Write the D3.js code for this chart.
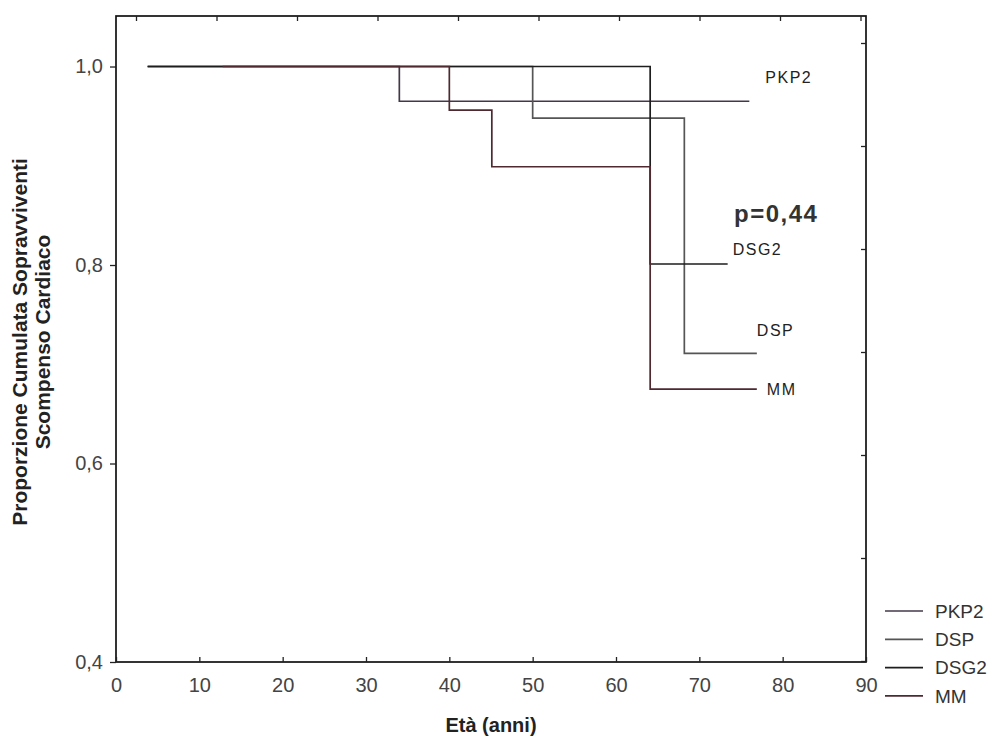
<!DOCTYPE html>
<html>
<head>
<meta charset="utf-8">
<script src="https://cdnjs.cloudflare.com/ajax/libs/d3/7.8.5/d3.min.js"></script>
<style>
  body { margin: 0; background: #fff; }
  svg { display: block; font-family: "Liberation Sans", Arial, sans-serif; }
</style>
</head>
<body>
<div id="chart"></div>
<script>
// series: age (anni) and cumulative survival
var seriesNames = ["PKP2", "DSP", "DSG2", "MM"];
var pkp2Age = [3.8, 34, 76];
var pkp2Surv = [1, 0.965, 0.965];
var dspAge = [3.8, 50, 68.2, 76.9];
var dspSurv = [1, 0.948, 0.711, 0.711];
var dsg2Age = [3.8, 64.1, 73.4];
var dsg2Surv = [1, 0.801, 0.801];
var mmAge = [12.8, 40, 45.1, 64.1, 76.9];
var mmSurv = [1, 0.956, 0.899, 0.675, 0.675];

var xTicks = [0, 10, 20, 30, 40, 50, 60, 70, 80, 90];
var yTicks = [0.4, 0.6, 0.8, 1.0];
var pValue = "p=0,44";

function init() {
    var w = 994;
    var h = 737;
    var left = 116, right = 866, top = 16, bottom = 662;

    var colors = { PKP2: "#43384a", DSP: "#555555", DSG2: "#1e1e1e", MM: "#4e2a30" };
    // label offsets from the end of each curve
    var labelPos = {
        PKP2: { dx: 16, dy: -24 },
        DSG2: { dx: 5, dy: -15 },
        DSP: { dx: 0, dy: -23 },
        MM: { dx: 10, dy: 0 }
    };

    var series = [
        { name: "PKP2", age: pkp2Age, surv: pkp2Surv },
        { name: "DSP", age: dspAge, surv: dspSurv },
        { name: "DSG2", age: dsg2Age, surv: dsg2Surv },
        { name: "MM", age: mmAge, surv: mmSurv }
    ];

    var xScale = d3.scaleLinear().domain([0, 90]).range([left, right]);
    var yScale = d3.scaleLinear().domain([0.4, 1.0509]).range([bottom, top]);

    // unlabeled ticks on the right and top frame edges
    var rightScale = d3.scaleLinear().domain([0, 6]).range([661, 43]);
    var topScale = d3.scaleLinear().domain([0, 9]).range([136, 860.5]);

    var svg = d3.select("#chart")
        .append("svg")
        .attr("width", w)
        .attr("height", h);

    svg.append("rect")
        .attr("width", w).attr("height", h).attr("fill", "#fff");

    var line = d3.line()
        .curve(d3.curveStepAfter)
        .x(function (d) { return xScale(d[0]); })
        .y(function (d) { return yScale(d[1]); });

    series.forEach(function (s) {
        var pts = s.age.map(function (a, i) { return [a, s.surv[i]]; });
        svg.append("path")
            .datum(pts)
            .attr("fill", "none")
            .attr("stroke", colors[s.name])
            .attr("stroke-width", 1.7)
            .attr("d", line);

        var lp = labelPos[s.name];
        svg.append("text")
            .attr("x", xScale(s.age[s.age.length - 1]) + lp.dx)
            .attr("y", yScale(s.surv[s.surv.length - 1]) + lp.dy)
            .attr("dy", "0.35em")
            .attr("font-size", 16)
            .attr("letter-spacing", 1.5)
            .attr("fill", "#222")
            .text(s.name);
    });

    // frame
    svg.append("rect")
        .attr("x", left).attr("y", top)
        .attr("width", right - left).attr("height", bottom - top)
        .attr("fill", "none")
        .attr("stroke", "#111")
        .attr("stroke-width", 1.7);

    var xAxis = d3.axisBottom(xScale)
        .tickValues(xTicks)
        .tickSizeInner(-5)
        .tickSizeOuter(0)
        .tickPadding(16)
        .tickFormat(d3.format("d"));

    var yAxis = d3.axisLeft(yScale)
        .tickValues(yTicks)
        .tickSizeInner(6)
        .tickSizeOuter(0)
        .tickPadding(7)
        .tickFormat(function (d) { return d.toFixed(1).replace(".", ","); });

    var gx = svg.append("g")
        .attr("transform", "translate(0," + bottom + ")")
        .call(xAxis);

    var gy = svg.append("g")
        .attr("transform", "translate(" + left + ",0)")
        .call(yAxis);

    svg.append("g")
        .attr("transform", "translate(" + right + ",0)")
        .call(d3.axisLeft(rightScale).ticks(6).tickSizeInner(5).tickSizeOuter(0).tickFormat(""));

    svg.append("g")
        .attr("transform", "translate(0," + top + ")")
        .call(d3.axisBottom(topScale).ticks(9).tickSizeInner(5).tickSizeOuter(0).tickFormat(""));

    svg.selectAll(".domain").remove();
    svg.selectAll(".tick line").attr("stroke", "#222").attr("stroke-width", 1.3);
    [gx, gy].forEach(function (g) {
        g.selectAll("text")
            .attr("font-size", 20)
            .attr("fill", "#444")
            .style("font-family", "Liberation Sans, Arial, sans-serif");
    });

    // p value
    svg.append("text")
        .attr("x", 734)
        .attr("y", 214)
        .attr("dy", "0.35em")
        .attr("font-size", 24)
        .attr("font-weight", "bold")
        .attr("letter-spacing", 1.5)
        .attr("fill", "#333")
        .text(pValue);

    // axis titles
    svg.append("text")
        .attr("x", 491)
        .attr("y", 725)
        .attr("dy", "0.35em")
        .attr("text-anchor", "middle")
        .attr("font-size", 20)
        .attr("font-weight", "bold")
        .attr("fill", "#222")
        .text("Età (anni)");

    var yTitle = svg.append("text")
        .attr("transform", "translate(20,342) rotate(-90)")
        .attr("text-anchor", "middle")
        .attr("font-size", 21)
        .attr("font-weight", "bold")
        .attr("fill", "#222");
    yTitle.append("tspan").attr("x", 0).attr("dy", "0.35em").text("Proporzione Cumulata Sopravviventi");
    yTitle.append("tspan").attr("x", 0).attr("dy", "1.1em").text("Scompenso Cardiaco");

    // legend
    var legend = svg.append("g");
    seriesNames.forEach(function (name, i) {
        var y = 611 + i * 28.3;
        legend.append("line")
            .attr("x1", 885).attr("x2", 923)
            .attr("y1", y).attr("y2", y)
            .attr("stroke", colors[name])
            .attr("stroke-width", 1.7);
        legend.append("text")
            .attr("x", 935)
            .attr("y", y)
            .attr("dy", "0.35em")
            .attr("font-size", 19)
            .attr("fill", "#333")
            .text(name);
    });
}

window.onload = init;
</script>
</body>
</html>
